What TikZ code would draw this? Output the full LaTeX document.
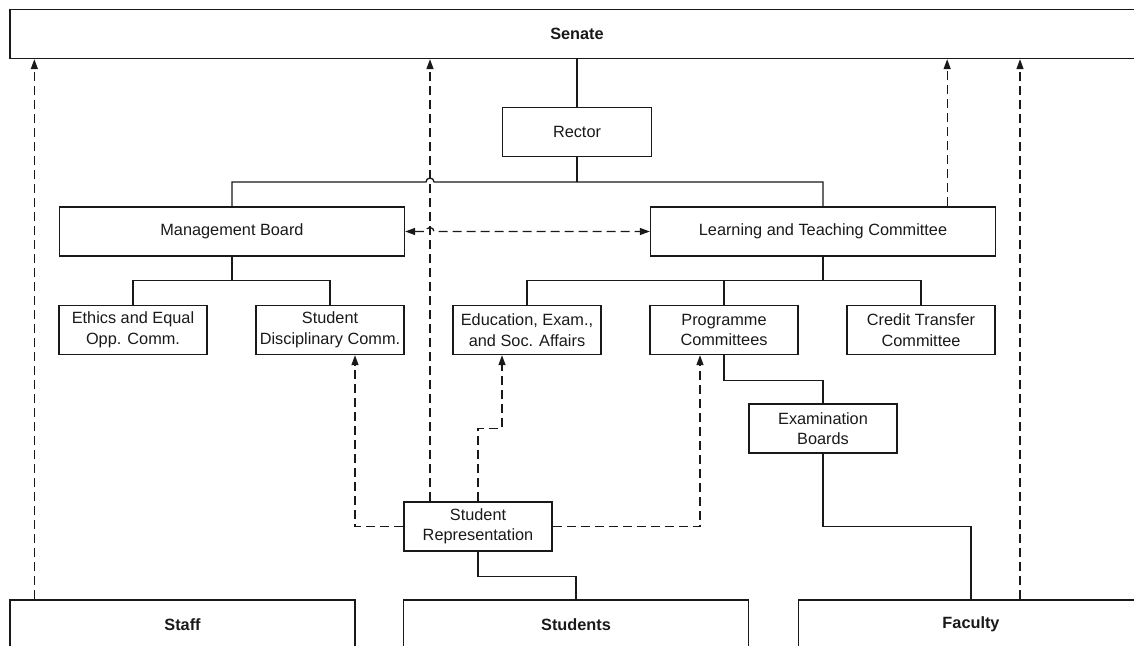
\documentclass[tikz,border=0pt]{standalone}
\usepackage{fontspec}
\setmainfont{Liberation Sans}
\usetikzlibrary{arrows.meta}

\tikzset{
  box/.style={draw, minimum width=148pt, minimum height=49pt, align=center,
    inner sep=2pt, font=\fontsize{16.3}{20.5}\selectfont},
  widebox/.style={box, minimum width=345pt},
  headbox/.style={widebox, font=\fontsize{16.3}{20.5}\selectfont\bfseries},
  dlink/.style={dash pattern=on 9pt off 5pt, -{Triangle[length=10pt,width=7pt]}},
  dboth/.style={dash pattern=on 9pt off 5pt, {Triangle[length=10pt,width=7pt]}-{Triangle[length=10pt,width=7pt]}},
}

\begin{document}
\begin{tikzpicture}[x=1pt, y=-1pt, line width=1.3pt, draw=black!90, color=black!90]
  \useasboundingbox (0,0) rectangle (1134,645);
  \clip (0,0) rectangle (1134,645);

  % top and bottom bars
  \node[headbox, minimum width=1134pt] (senate) at (577,34) {Senate};
  \node[headbox] (staff) at (182.5,624.5) {Staff};
  \node[headbox] (students) at (576,624.5) {Students};
  \node[headbox] (faculty) at (971,624.5) {Faculty};

  % committees
  \node[box, minimum width=149pt] (rector) at (577,132) {Rector};
  \node[widebox] (mgmt) at (232,231.5) {Management Board};
  \node[widebox] (ltc) at (823,231.5) {Learning and Teaching Committee};
  \node[box] (ethics) at (133,330) {Ethics and Equal\\Opp. Comm.};
  \node[box] (discipl) at (330,330) {Student\\Disciplinary Comm.};
  \node[box] (educ) at (527,330) {Education, Exam.,\\and Soc. Affairs};
  \node[box] (progr) at (724,330) {Programme\\Committees};
  \node[box] (credit) at (921,330) {Credit Transfer\\Committee};
  \node[box] (exam) at (823,428.5) {Examination\\Boards};
  \node[box] (studrep) at (478,526.5) {Student\\Representation};

  % crossings of the representation line
  \coordinate (cross1) at (430,182);
  \coordinate (cross2) at (430,231.5);

  % solid lines
  \draw (senate) -- (rector);
  \draw (rector) -- (rector |- cross1);
  \draw (mgmt.north) |- ([xshift=-4pt]cross1) arc[start angle=180, end angle=0, radius=4pt]
    -- (ltc.north |- cross1) -- (ltc.north);
  \draw (mgmt.south) -- ++(0,24) -| (ethics.north);
  \draw (mgmt.south) -- ++(0,24) -| (discipl.north);
  \draw (ltc.south) -- ++(0,24) -| (educ.north);
  \draw (ltc.south) -- ++(0,24) -| (progr.north);
  \draw (ltc.south) -- ++(0,24) -| (credit.north);
  \draw (progr.south) -- ++(0,25) -| (exam.north);
  \draw (exam.south) -- ++(0,73) -| (faculty.north);
  \draw (studrep.south) -- ++(0,25) -| (students.north);

  % dashed lines
  \draw[dlink] ([xshift=25pt]staff.north west) coordinate (s1) -- (s1 |- senate.south);
  \draw[dlink] ([xshift=49pt]faculty.north) coordinate (f1) -- (f1 |- senate.south);
  \draw[dlink] ([xshift=-49pt]ltc.north east) coordinate (l1) -- (l1 |- senate.south);
  \draw[dlink] (cross1 |- studrep.north) -- (cross1 |- senate.south);
  \draw[dlink] (studrep.north) -- ++(0,-73) -| ([xshift=-25pt]educ.south);
  \draw[dlink] (studrep.west) -| ([xshift=25pt]discipl.south);
  \draw[dlink] (studrep.east) -| ([xshift=-24pt]progr.south);
  \draw[dboth] (mgmt.east) -- ([xshift=-4pt]cross2) arc[start angle=180, end angle=0, radius=4pt]
    -- (ltc.west);
\end{tikzpicture}
\end{document}
